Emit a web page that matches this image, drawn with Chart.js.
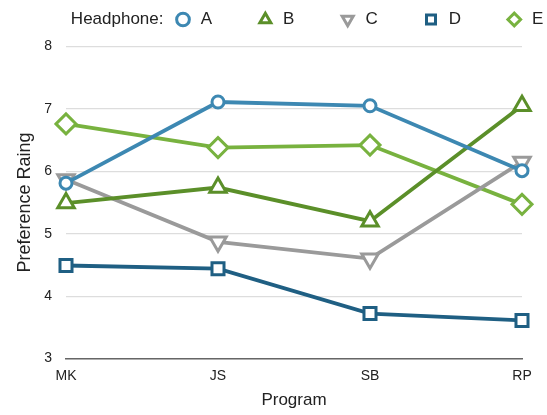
<!DOCTYPE html>
<html>
<head>
<meta charset="utf-8">
<script src="https://cdn.jsdelivr.net/npm/chart.js@4/dist/chart.umd.min.js"></script>
<style>
  html, body { margin: 0; padding: 0; background: #fff; }
  #wrap { width: 547px; height: 415px; }
</style>
</head>
<body>
<div id="wrap"><canvas id="c" width="547" height="415"></canvas></div>
<script>
// Programs on the x axis
const programs = ['MK', 'JS', 'SB', 'RP'];
// Mean preference rating for each headphone
const headphoneA = [5.81, 7.11, 7.05, 6.01];
const headphoneB = [5.49, 5.74, 5.20, 7.05];
const headphoneC = [5.87, 4.87, 4.60, 6.15];
const headphoneD = [4.49, 4.44, 3.72, 3.61];
const headphoneE = [6.76, 6.38, 6.42, 5.47];
const yTicks = [3, 4, 5, 6, 7, 8];

const FONT = '"Liberation Sans", Arial, Helvetica, sans-serif';
const LEGEND_HEIGHT = 46.5;   // band reserved above the plot
const LEGEND_LEFT = 167.5;    // where the legend row begins

function series(label, data, color, style, radius, rotation) {
  return {
    label, data,
    borderColor: color,
    backgroundColor: '#ffffff',
    borderWidth: 3.8,
    pointStyle: style,
    rotation: rotation || 0,
    pointRadius: radius,
    pointBorderWidth: 3,
    pointBackgroundColor: '#ffffff',
    pointBorderColor: color,
    tension: 0,
    clip: false
  };
}

// Places the legend row and draws the "Headphone:" caption in front of it
const legendPlacement = {
  id: 'legendPlacement',
  beforeLayout(chart) {
    const lg = chart.legend;
    if (lg && !lg._fixedFit) {
      const fit = lg.fit;
      lg.fit = function () { fit.call(this); this.height = LEGEND_HEIGHT; };
      lg._fixedFit = true;
    }
  },
  afterLayout(chart) {
    const lg = chart.legend;
    if (!lg) return;
    const w = lg.right - lg.left;
    lg.left = LEGEND_LEFT;
    lg.right = LEGEND_LEFT + w;
  },
  afterDraw(chart) {
    const lg = chart.legend;
    if (!lg || !lg.legendHitBoxes || !lg.legendHitBoxes.length) return;
    const first = lg.legendHitBoxes[0];
    const ctx = chart.ctx;
    ctx.save();
    ctx.font = '17px ' + FONT;
    ctx.fillStyle = '#222';
    ctx.textAlign = 'right';
    ctx.textBaseline = 'middle';
    ctx.fillText('Headphone:', first.left - 15, first.top + first.height / 2);
    ctx.restore();
  }
};

new Chart(document.getElementById('c'), {
  type: 'line',
  data: {
    labels: programs,
    datasets: [
      series('A', headphoneA, '#3d88b2', 'circle', 6),
      series('B', headphoneB, '#5b8f29', 'triangle', 9.5),
      series('C', headphoneC, '#9a9a9a', 'triangle', 9.5, 180),
      series('D', headphoneD, '#1f5f83', 'rect', 8.5),
      series('E', headphoneE, '#78b23f', 'rectRot', 10)
    ]
  },
  options: {
    responsive: false,
    animation: false,
    devicePixelRatio: 1,
    layout: { padding: { left: 0, right: 25, top: 0, bottom: 0 } },
    plugins: {
      legend: {
        position: 'top',
        align: 'start',
        labels: {
          usePointStyle: true,
          boxWidth: 9,
          boxHeight: 9,
          padding: 11,
          color: '#222',
          font: { family: FONT, size: 17 },
          generateLabels(chart) {
            const items = Chart.defaults.plugins.legend.labels.generateLabels(chart);
            items.forEach((it, i) => {
              it.lineWidth = 3;
              it.text = ' ' + it.text + (i < items.length - 1 ? '        ' : '');
            });
            return items;
          }
        }
      },
      tooltip: { enabled: false }
    },
    scales: {
      x: {
        offset: false,
        grid: { display: false, drawTicks: false },
        border: { display: true, color: '#666', width: 1.5 },
        ticks: { color: '#222', font: { family: FONT, size: 14 }, padding: 9, maxRotation: 0 },
        title: { display: true, text: 'Program', color: '#222', font: { family: FONT, size: 17 }, padding: { top: 2 } },
        afterFit(scale) { scale.height = 56.5; }
      },
      y: {
        min: 3, max: 8,
        afterBuildTicks(scale) { scale.ticks = yTicks.map(v => ({ value: v })); },
        grid: { color: '#dddddd', lineWidth: 1.2, drawTicks: false },
        border: { display: false },
        ticks: { color: '#222', font: { family: FONT, size: 14 }, padding: 14 },
        title: { display: true, text: 'Preference Raing', color: '#222', font: { family: FONT, size: 18 }, padding: { top: 14 } },
        afterFit(scale) { scale.width = 66; }
      }
    }
  },
  plugins: [legendPlacement]
});
</script>
</body>
</html>
